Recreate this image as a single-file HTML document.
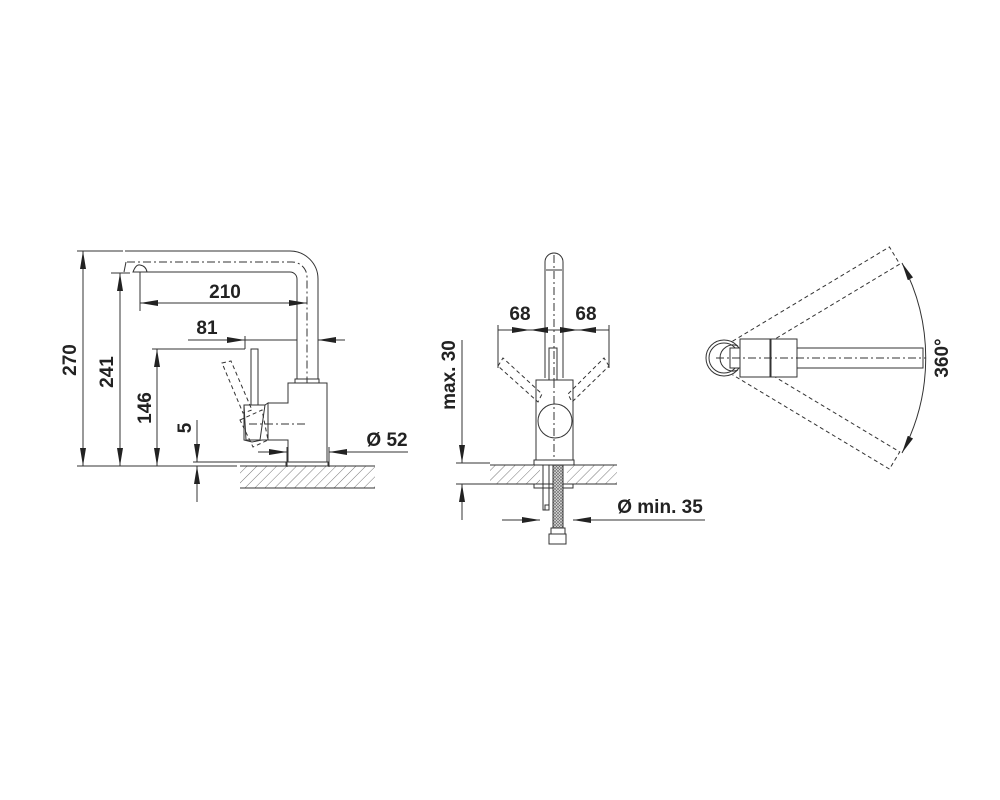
<!DOCTYPE html>
<html><head><meta charset="utf-8"><style>
html,body{margin:0;padding:0;background:#fff;}
svg{display:block}
text{font-family:"Liberation Sans",sans-serif;font-weight:bold;font-size:19px;fill:#222}
</style></head><body>
<svg width="1000" height="800" viewBox="0 0 1000 800" xmlns="http://www.w3.org/2000/svg">
<defs>
<marker id="a" viewBox="0 0 18 6" refX="18" refY="3" markerWidth="18" markerHeight="6" markerUnits="userSpaceOnUse" orient="auto-start-reverse">
<path d="M0,0 L18,3 L0,6 z" fill="#222"/></marker>
<pattern id="h" width="7" height="7" patternUnits="userSpaceOnUse" patternTransform="rotate(45)">
<line x1="0" y1="0" x2="0" y2="7" stroke="#555" stroke-width="0.8"/></pattern>
<pattern id="b" width="3" height="3" patternUnits="userSpaceOnUse">
<rect width="3" height="3" fill="#ddd"/><path d="M0,0 L3,3 M3,0 L0,3" stroke="#666" stroke-width="0.6"/></pattern>
</defs>
<g stroke="#333" stroke-width="1" fill="none">
<!-- LEFT VIEW -->
<line x1="77" y1="251" x2="123" y2="251"/>
<line x1="77" y1="466" x2="237" y2="466"/>
<line x1="83" y1="251" x2="83" y2="466" marker-start="url(#a)" marker-end="url(#a)"/>
<line x1="111" y1="273" x2="130" y2="273"/>
<line x1="120" y1="273" x2="120" y2="466" marker-start="url(#a)" marker-end="url(#a)"/>
<line x1="152" y1="349" x2="245" y2="349"/>
<line x1="157" y1="349" x2="157" y2="466" marker-start="url(#a)" marker-end="url(#a)"/>
<line x1="193" y1="462" x2="290" y2="462"/>
<line x1="197" y1="420" x2="197" y2="462" marker-end="url(#a)"/>
<line x1="197" y1="502" x2="197" y2="466" marker-end="url(#a)"/>
<!-- spout -->
<path d="M125,251 H290 A28,28 0 0 1 318,279 V379"/>
<path d="M147,272 H290 A7,7 0 0 1 297,279 V379"/>
<path d="M133,272 Q136,264 140,265 Q146,266 147,272 Z"/>
<line x1="126" y1="262" x2="124" y2="272"/>
<path d="M127,262 H292 A15,15 0 0 1 307,277 V466" stroke-dasharray="8,3,2,3"/>
<!-- 210 -->
<line x1="140" y1="272" x2="140" y2="311"/>
<line x1="140" y1="303" x2="307" y2="303" marker-start="url(#a)" marker-end="url(#a)"/>
<!-- 81 -->
<line x1="245" y1="336" x2="245" y2="349"/>
<line x1="188" y1="340" x2="245" y2="340" marker-end="url(#a)"/>
<line x1="345" y1="340" x2="318" y2="340" marker-end="url(#a)"/>
<line x1="245" y1="340" x2="297" y2="340"/>
<!-- body -->
<rect x="295" y="379" width="24" height="4"/>
<path d="M288,383 H327 V466 H288 V440 H268 V403 H288 Z" fill="#fff"/>
<rect x="286" y="462" width="42" height="4" fill="#fff"/>
<line x1="249" y1="424" x2="307" y2="424" stroke-dasharray="8,3,2,3"/>
<rect x="251" y="349" width="7" height="56"/>
<path d="M244,405 H265 L268,403 V440 L262,440 L252,442 L244,440 Z"/>
<path d="M244,405 L265,405 L260,440 L246,440 Z"/>
<g stroke-dasharray="4,3">
<path d="M222,363 L231,361 L252,410 L243,413 Z"/>
<path d="M240,420 L262,410 L268,440 L253,447 Z"/>
</g>
<!-- Ø52 -->
<line x1="287" y1="447" x2="287" y2="467"/>
<line x1="329" y1="447" x2="329" y2="467"/>
<line x1="258" y1="452" x2="287" y2="452" marker-end="url(#a)"/>
<line x1="408" y1="452" x2="329" y2="452" marker-end="url(#a)"/>
<rect x="240" y="466" width="135" height="22" fill="url(#h)" stroke="none"/>
<line x1="240" y1="466" x2="375" y2="466"/>
<line x1="240" y1="488" x2="375" y2="488"/>

<!-- MIDDLE VIEW -->
<path d="M545,378 V262 A9,9 0 0 1 563,262 V378"/>
<line x1="546" y1="270" x2="562" y2="270"/>
<line x1="554" y1="255" x2="554" y2="465" stroke-dasharray="8,3,2,3"/>
<rect x="549" y="348" width="8" height="32"/>
<rect x="536" y="380" width="37" height="81" fill="#fff"/>
<circle cx="555" cy="421" r="17" fill="#fff"/>
<line x1="554" y1="380" x2="554" y2="460" stroke-dasharray="8,3,2,3"/>
<g stroke-dasharray="4,3">
<path d="M498,366 L503,358 L542,394 L538,402 Z"/>
<path d="M609,366 L604,358 L568,394 L572,402 Z"/>
</g>
<line x1="498" y1="325" x2="498" y2="368"/>
<line x1="609" y1="325" x2="609" y2="368"/>
<line x1="498" y1="330" x2="530" y2="330" marker-end="url(#a)"/>
<line x1="578" y1="330" x2="609" y2="330" marker-start="url(#a)"/>
<line x1="530" y1="330" x2="578" y2="330" marker-start="url(#a)" marker-end="url(#a)"/>
<line x1="462" y1="340" x2="462" y2="463" marker-end="url(#a)"/>
<line x1="462" y1="520" x2="462" y2="484" marker-end="url(#a)"/>
<line x1="456" y1="463" x2="490" y2="463"/>
<line x1="456" y1="484" x2="490" y2="484"/>
<rect x="490" y="465" width="127" height="19" fill="url(#h)" stroke="none"/>
<rect x="540" y="465" width="27" height="19" fill="#fff" stroke="none"/>
<line x1="490" y1="465" x2="617" y2="465"/>
<line x1="490" y1="484" x2="617" y2="484"/>
<rect x="534" y="460" width="40" height="5" fill="#fff"/>
<rect x="534" y="484" width="39" height="4" fill="#fff"/>
<rect x="543" y="465" width="6" height="45"/>
<rect x="545" y="505" width="4" height="5"/>
<rect x="553" y="465" width="10" height="63" fill="url(#b)"/>
<rect x="551" y="528" width="14" height="6"/>
<rect x="549" y="534" width="17" height="10"/>
<line x1="502" y1="520" x2="540" y2="520" marker-end="url(#a)"/>
<line x1="705" y1="520" x2="573" y2="520" marker-end="url(#a)"/>

<!-- RIGHT VIEW -->
<g stroke-dasharray="4,3">
<g transform="rotate(-31 724 358)">
<path d="M740,348 H923 V368 H740"/>
</g>
<g transform="rotate(31 724 358)">
<path d="M740,348 H923 V368 H740"/>
</g>
</g>
<circle cx="724" cy="358" r="18" fill="#fff"/>
<circle cx="724" cy="358" r="15"/>
<path d="M738,346 A13,13 0 1 0 738,370"/>
<rect x="730" y="348" width="193" height="20" fill="#fff"/>
<rect x="740" y="339" width="30" height="38" fill="#fff"/>
<rect x="771" y="339" width="26" height="38" fill="#fff"/>
<line x1="716" y1="358" x2="926" y2="358" stroke-dasharray="8,3,2,3"/>
<path d="M902,263 A202,202 0 0 1 902,453" marker-start="url(#a)" marker-end="url(#a)"/>
</g>
<text x="225" y="298" text-anchor="middle">210</text>
<text x="207" y="334" text-anchor="middle">81</text>
<text x="76" y="360" text-anchor="middle" transform="rotate(-90 76 360)">270</text>
<text x="113" y="372" text-anchor="middle" transform="rotate(-90 113 372)">241</text>
<text x="151" y="408" text-anchor="middle" transform="rotate(-90 151 408)">146</text>
<text x="191" y="428" text-anchor="middle" transform="rotate(-90 191 428)">5</text>
<text x="387" y="446" text-anchor="middle">Ø 52</text>
<text x="520" y="320" text-anchor="middle">68</text>
<text x="586" y="320" text-anchor="middle">68</text>
<text x="455" y="375" text-anchor="middle" transform="rotate(-90 455 375)">max. 30</text>
<text x="660" y="513" text-anchor="middle">Ø min. 35</text>
<text x="948" y="358" text-anchor="middle" transform="rotate(-90 948 358)">360°</text>
</svg>
</body></html>
